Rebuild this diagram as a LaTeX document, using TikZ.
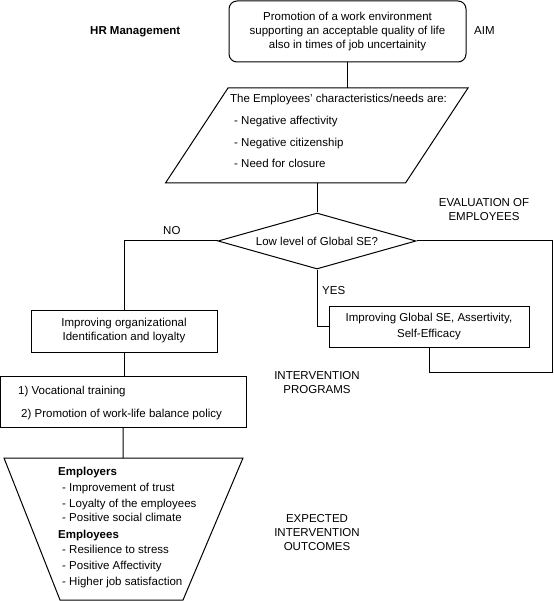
\documentclass[tikz,border=0pt]{standalone}
\usepackage{fontspec}
\setmainfont{Liberation Sans}
\usetikzlibrary{shapes.geometric}
\begin{document}
\begin{tikzpicture}[x=1pt,y=-1pt,
  every node/.style={font=\fontsize{11.5}{14}\selectfont},
  line/.style={draw=black, line width=1pt},
  boxnode/.style={draw=black, line width=1pt, rectangle, inner sep=0pt, align=center},
  txt/.style={anchor=base west, inner sep=0pt},
  lbl/.style={inner sep=0pt, align=center}]
\useasboundingbox (0,0) rectangle (553,601);

% top rounded box
\node[boxnode, rounded corners=8pt, minimum width=237pt, minimum height=61pt] (aim) at (347.5,31.5)
  {Promotion of a work environment\\supporting an acceptable quality of life\\also in times of job uncertainity};
\node[txt, font=\fontsize{11.5}{14}\selectfont\bfseries] (hr) at (90,35) {HR Management};
\node[txt] (aimlbl) at (474,35) {AIM};

% parallelogram
\draw[line] (228,88) -- (468,88) -- (405.5,183) -- (165.5,183) -- cycle;
\coordinate (partop) at (347.5,88);
\coordinate (parbot) at (317,183);
\node[txt] (p1) at (230,103) {The Employees' characteristics/needs are:};
\node[txt] (p2) at (234,125) {- Negative affectivity};
\node[txt] (p3) at (234,147) {- Negative citizenship};
\node[txt] (p4) at (234,168) {- Need for closure};

% decision
\node[diamond, draw=black, line width=1pt, aspect=3.54, minimum width=198pt, minimum height=56pt, inner sep=0pt] (dec) at (317,241) {Low level of Global SE?};
\node[txt] (no) at (163,235) {NO};
\node[txt] (yes) at (322,294) {YES};
\node[lbl] (eval) at (484,209.5) {EVALUATION OF\\EMPLOYEES};

% boxes
\node[boxnode, minimum width=186pt, minimum height=42pt] (lbox) at (124,331)
  {Improving organizational\\Identification and loyalty};
\node[boxnode, minimum width=200pt, minimum height=41pt, font=\fontsize{11.5}{16}\selectfont] (rbox) at (429,326.5)
  {Improving Global SE, Assertivity,\\Self-Efficacy};
\node[boxnode, minimum width=245.5pt, minimum height=51pt] (vbox) at (123.25,401.5) {};
\node[txt] (v1) at (18,394) {1) Vocational training};
\node[txt] (v2) at (21,417) {2) Promotion of work-life balance policy};
\node[lbl] (interv) at (317,383) {INTERVENTION\\PROGRAMS};

% funnel
\draw[line] (4,458) -- (243,458) -- (183,600) -- (60,600) -- cycle;
\coordinate (funtop) at (123,458);
\node[txt, font=\fontsize{11.5}{14}\selectfont\bfseries] (f0) at (58,475) {Employers};
\node[txt] (f1) at (62,491) {- Improvement of trust};
\node[txt] (f2) at (62,507) {- Loyalty of the employees};
\node[txt] (f3) at (62,521) {- Positive social climate};
\node[txt, font=\fontsize{11.5}{14}\selectfont\bfseries] (f4) at (58,538) {Employees};
\node[txt] (f5) at (62,553) {- Resilience to stress};
\node[txt] (f6) at (62,569) {- Positive Affectivity};
\node[txt] (f7) at (62,585) {- Higher job satisfaction};
\node[lbl] (outc) at (317,532.5) {EXPECTED\\INTERVENTION\\OUTCOMES};

% connectors
\coordinate (loopA) at (552,372);
\draw[line] (aim.south) -- (partop);
\draw[line] (parbot) -- (dec.north);
\draw[line] (dec.west) -| (lbox.north);
\draw[line] (dec.south) |- (rbox.west);
\draw[line] (dec.east) -| (loopA) -| (rbox.south);
\draw[line] (lbox.south) -- (lbox.south |- vbox.north);
\draw[line] (vbox.south) -- (funtop);
\end{tikzpicture}
\end{document}
